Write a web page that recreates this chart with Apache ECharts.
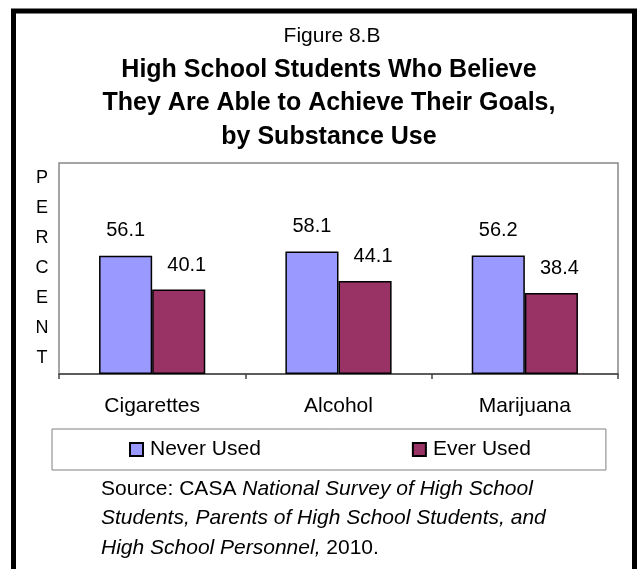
<!DOCTYPE html>
<html>
<head>
<meta charset="utf-8">
<script src="https://cdn.jsdelivr.net/npm/echarts@6/dist/echarts.min.js"></script>
<style>
  html, body {margin: 0; padding: 0; background: #fff;}
  #chart {width: 638px; height: 569px;}
</style>
</head>
<body>
<div id="chart"></div>
<script>
// values
var categories = ['Cigarettes', 'Alcohol', 'Marijuana'];
var neverUsed = [56.1, 58.1, 56.2];
var everUsed = [40.1, 44.1, 38.4];
var seriesNames = ['Never Used', 'Ever Used'];

var FONT = "'Liberation Sans', Arial, sans-serif";

var chart = echarts.init(document.getElementById('chart'), null, {renderer: 'canvas'});

var option = {
    backgroundColor: '#fff',
    animation: false,
    title: [{
        text: 'Figure 8.B',
        left: 327,
        top: 19,
        textAlign: 'center',
        textStyle: {fontFamily: FONT, fontSize: 21, fontWeight: 'normal', color: '#000', lineHeight: 24}
    }, {
        text: 'High School Students Who Believe\nThey Are Able to Achieve Their Goals,\nby Substance Use',
        left: 324,
        top: 48,
        textAlign: 'center',
        textStyle: {fontFamily: FONT, fontSize: 25, fontWeight: 'bold', color: '#000', lineHeight: 33.5}
    }],
    grid: {
        left: 59, right: 20, top: 163, bottom: 195,
        show: true,
        borderColor: '#888',
        borderWidth: 1.5
    },
    legend: {
        data: seriesNames,
        left: 52,
        top: 429,
        padding: [10, 75, 10, 77],
        itemGap: 151,
        itemWidth: 13,
        itemHeight: 13,
        icon: 'rect',
        borderColor: '#808080',
        borderWidth: 1,
        textStyle: {fontFamily: FONT, fontSize: 21, color: '#000', padding: [0, 0, 0, 2]}
    },
    xAxis: {
        type: 'category',
        data: categories,
        axisLine: {lineStyle: {color: '#444', width: 1.5}},
        axisTick: {show: true, length: 5, lineStyle: {color: '#444', width: 1.5}},
        axisLabel: {fontFamily: FONT, fontSize: 21, color: '#000', margin: 22}
    },
    yAxis: {
        type: 'value',
        min: 0,
        max: 100,
        name: 'P\nE\nR\nC\nE\nN\nT',
        nameLocation: 'middle',
        nameRotate: 0,
        nameGap: 17,
        nameTextStyle: {fontFamily: FONT, fontSize: 18, color: '#000', lineHeight: 30, align: 'center'},
        axisLine: {show: false},
        axisTick: {show: false},
        axisLabel: {show: false},
        splitLine: {show: false}
    },
    series: [{
        type: 'bar',
        name: seriesNames[0],
        data: neverUsed,
        barGap: '0%',
        barCategoryGap: '43%',
        itemStyle: {color: '#9999FF', borderColor: '#000', borderWidth: 1.5},
        label: {show: true, position: 'top', distance: 15, fontFamily: FONT, fontSize: 20, color: '#000'}
    }, {
        type: 'bar',
        name: seriesNames[1],
        data: everUsed,
        barGap: '0%',
        barCategoryGap: '43%',
        itemStyle: {color: '#993366', borderColor: '#000', borderWidth: 1.5},
        label: {show: true, position: 'top', distance: 14, offset: [8, 0], fontFamily: FONT, fontSize: 20, color: '#000'}
    }],
    graphic: [{
        // outer frame of the figure
        type: 'rect',
        shape: {x: 13.5, y: 11, width: 621, height: 600},
        style: {fill: 'none', stroke: '#000', lineWidth: 5},
        silent: true
    }, {
        type: 'text',
        left: 101,
        top: 474,
        style: {
            text: '{n|Source: CASA }{i|National Survey of High School}\n{i|Students, Parents of High School Students, and}\n{i|High School Personnel,}{n| 2010.}',
            font: '21px ' + FONT,
            fill: '#000',
            lineHeight: 29.5,
            rich: {
                n: {fontFamily: FONT, fontSize: 21, fontStyle: 'normal', lineHeight: 29.5, fill: '#000'},
                i: {fontFamily: FONT, fontSize: 21, fontStyle: 'italic', lineHeight: 29.5, fill: '#000'}
            }
        }
    }]
};

chart.setOption(option);
</script>
</body>
</html>
